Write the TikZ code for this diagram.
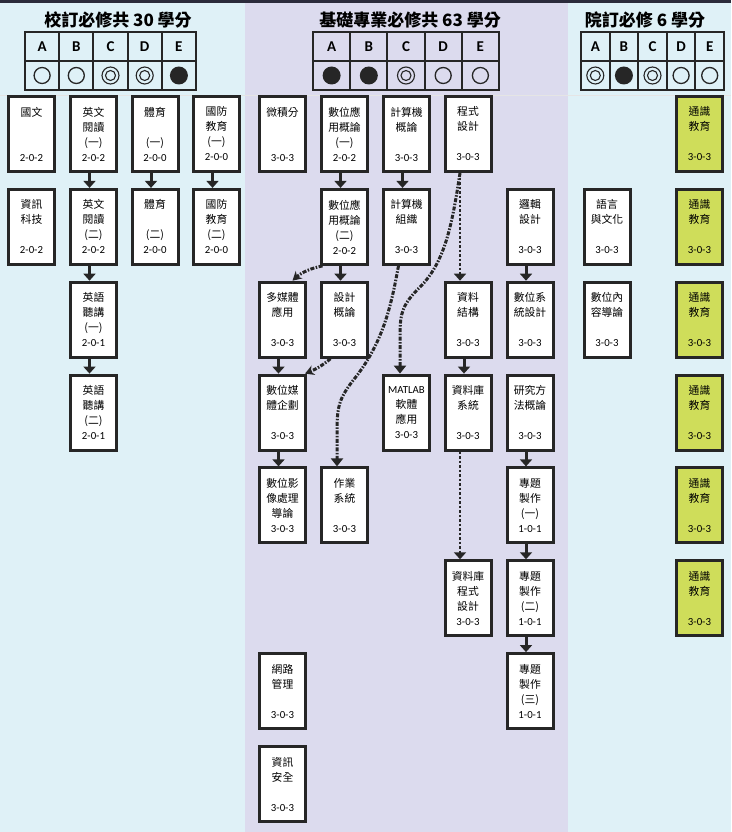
\documentclass[tikz,border=0pt]{standalone}
\usepackage{fontspec}
\setmainfont{Carlito}
\newfontfamily\cjk{Noto Sans CJK TC}
\newfontfamily\latf{Carlito}
\usetikzlibrary{arrows.meta}
\definecolor{bgblue}{HTML}{DFF1F7}
\definecolor{bglav}{HTML}{DCDBEE}
\definecolor{ygreen}{HTML}{CFDD5A}
\definecolor{topbar}{HTML}{2B2B3B}
\definecolor{bord}{HTML}{262626}
\newcommand{\crd}[1]{{\latf #1}}
\newcommand{\symO}[2]{\draw[bord,line width=1.3pt] (#1,#2) circle[radius=8pt];}
\newcommand{\symD}[2]{\draw[bord,line width=1.1pt] (#1,#2) circle[radius=8.5pt] (#1,#2) circle[radius=5pt];}
\newcommand{\symF}[2]{\fill[bord] (#1,#2) circle[radius=9pt];}
\tikzset{
  course/.style={draw=bord, line width=3pt, fill=white, minimum width=46pt, minimum height=75pt,
    inner sep=0pt, align=center, font=\cjk\fontsize{10.8}{15}\selectfont},
  gen/.style={course, fill=ygreen},
  head/.style={font=\cjk\bfseries\fontsize{17}{17}\selectfont, inner sep=0pt},
  lett/.style={font=\latf\bfseries\fontsize{15}{15}\selectfont, inner sep=0pt},
  tbl/.style={draw=bord, line width=2pt},
  solidarr/.style={draw=bord, line width=3pt, -{Triangle[width=12pt,length=7pt]}},
  dasharr/.style={draw=bord, line width=3pt, dash pattern=on 4pt off 1.5pt on 1.5pt off 1.5pt, -{Stealth[width=10pt,length=9pt]}},
  dasharrT/.style={draw=bord, line width=3pt, dash pattern=on 4pt off 1.5pt on 1.5pt off 1.5pt, -{Triangle[width=12pt,length=8pt]}},
  dotarr/.style={draw=bord, line width=2.6pt, dash pattern=on 2.5pt off 2pt, -{Triangle[width=12pt,length=7pt]}},
}
\begin{document}
\begin{tikzpicture}[x=1pt,y=-1pt]
\useasboundingbox (0,0) rectangle (731,832);
% backgrounds
\fill[bgblue] (0,0) rectangle (245,832);
\fill[bglav] (245,0) rectangle (568,832);
\fill[bgblue] (568,0) rectangle (731,832);
\fill[topbar] (0,0) rectangle (731,3.5);
\draw[black!10, line width=0.8pt] (0,95) -- (731,95);

% headings
\node[head] (h1) at (118,20) {校訂必修共 30 學分};
\node[head] (h2) at (410,20) {基礎專業必修共 63 學分};
\node[head] (h3) at (645,20) {院訂必修 6 學分};

% left table
\draw[tbl] (25,32) rectangle (196,90) (25,61) -- (196,61);
\foreach \x in {59.2,93.4,127.6,161.8} \draw[tbl] (\x,32) -- (\x,90);
\foreach \l/\x in {A/42.1,B/76.3,C/110.5,D/144.7,E/178.9} \node[lett] at (\x,46.5) {\l};
\symO{42.1}{75.5}\symO{76.3}{75.5}\symD{110.5}{75.5}\symD{144.7}{75.5}\symF{178.9}{75.5}

% middle table
\draw[tbl] (313,32) rectangle (499,90) (313,61) -- (499,61);
\foreach \x in {350.2,387.4,424.6,461.8} \draw[tbl] (\x,32) -- (\x,90);
\foreach \l/\x in {A/331.6,B/368.8,C/406,D/443.2,E/480.4} \node[lett] at (\x,46.5) {\l};
\symF{331.6}{75.5}\symF{368.8}{75.5}\symD{406}{75.5}\symO{443.2}{75.5}\symO{480.4}{75.5}

% right table
\draw[tbl] (581,32) rectangle (724,90) (581,61) -- (724,61);
\foreach \x in {609.6,638.2,666.8,695.4} \draw[tbl] (\x,32) -- (\x,90);
\foreach \l/\x in {A/595.3,B/623.9,C/652.5,D/681.1,E/709.7} \node[lett] at (\x,46.5) {\l};
\symD{595.3}{75.5}\symF{623.9}{75.5}\symD{652.5}{75.5}\symO{681.1}{75.5}\symO{709.7}{75.5}

% left courses
\node[course] (guowen) at (31.5,134) {國文\\~\\~\\\crd{2-0-2}};
\node[course] (yw1) at (93.5,134) {英文\\閱讀\\(一)\\\crd{2-0-2}};
\node[course] (ty1) at (155,134) {體育\\~\\(一)\\\crd{2-0-0}};
\node[course] (gf1) at (216.5,134) {國防\\教育\\(一)\\\crd{2-0-0}};
\node[course] (zx) at (31.5,226.9) {資訊\\科技\\~\\\crd{2-0-2}};
\node[course] (yw2) at (93.5,226.9) {英文\\閱讀\\(二)\\\crd{2-0-2}};
\node[course] (ty2) at (155,226.9) {體育\\~\\(二)\\\crd{2-0-0}};
\node[course] (gf2) at (216.5,226.9) {國防\\教育\\(二)\\\crd{2-0-0}};
\node[course] (yt1) at (93.5,319.7) {英語\\聽講\\(一)\\\crd{2-0-1}};
\node[course] (yt2) at (93.5,412.6) {英語\\聽講\\(二)\\\crd{2-0-1}};

% middle courses
\node[course] (wjf) at (282.5,134) {微積分\\~\\~\\\crd{3-0-3}};
\node[course] (sw1) at (344.5,134) {數位應\\用概論\\(一)\\\crd{2-0-2}};
\node[course] (jg) at (406.5,134) {計算機\\概論\\~\\\crd{3-0-3}};
\node[course] (cs) at (468,134) {程式\\設計\\~\\\crd{3-0-3}};
\node[course] (sw2) at (344.5,226.9) {數位應\\用概論\\(二)\\\crd{2-0-2}};
\node[course] (jz) at (406.5,226.9) {計算機\\組織\\~\\\crd{3-0-3}};
\node[course] (lj) at (530,226.9) {邏輯\\設計\\~\\\crd{3-0-3}};
\node[course] (mm) at (282.5,319.7) {多媒體\\應用\\~\\\crd{3-0-3}};
\node[course] (sj) at (344.5,319.7) {設計\\概論\\~\\\crd{3-0-3}};
\node[course] (ds) at (468,319.7) {資料\\結構\\~\\\crd{3-0-3}};
\node[course] (dsd) at (530,319.7) {數位系\\統設計\\~\\\crd{3-0-3}};
\node[course] (dmp) at (282.5,412.6) {數位媒\\體企劃\\~\\\crd{3-0-3}};
\node[course] (mat) at (406.5,412.6) {\crd{MATLAB}\\軟體\\應用\\\crd{3-0-3}};
\node[course] (db) at (468,412.6) {資料庫\\系統\\~\\\crd{3-0-3}};
\node[course] (rm) at (530,412.6) {研究方\\法概論\\~\\\crd{3-0-3}};
\node[course] (dip) at (282.5,505.4) {數位影\\像處理\\導論\\\crd{3-0-3}};
\node[course] (os) at (344.5,505.4) {作業\\系統\\~\\\crd{3-0-3}};
\node[course] (pj1) at (530,505.4) {專題\\製作\\(一)\\\crd{1-0-1}};
\node[course] (dbp) at (468,598.3) {資料庫\\程式\\設計\\\crd{3-0-3}};
\node[course] (pj2) at (530,598.3) {專題\\製作\\(二)\\\crd{1-0-1}};
\node[course] (net) at (282.5,691.1) {網路\\管理\\~\\\crd{3-0-3}};
\node[course] (pj3) at (530,691.1) {專題\\製作\\(三)\\\crd{1-0-1}};
\node[course] (sec) at (282.5,784) {資訊\\安全\\~\\\crd{3-0-3}};

% right courses
\node[gen] (ge1) at (699.5,134) {通識\\教育\\~\\\crd{3-0-3}};
\node[gen] (ge2) at (699.5,226.9) {通識\\教育\\~\\\crd{3-0-3}};
\node[gen] (ge3) at (699.5,319.7) {通識\\教育\\~\\\crd{3-0-3}};
\node[gen] (ge4) at (699.5,412.6) {通識\\教育\\~\\\crd{3-0-3}};
\node[gen] (ge5) at (699.5,505.4) {通識\\教育\\~\\\crd{3-0-3}};
\node[gen] (ge6) at (699.5,598.3) {通識\\教育\\~\\\crd{3-0-3}};
\node[course] (lang) at (607,226.9) {語言\\與文化\\~\\\crd{3-0-3}};
\node[course] (dc) at (607,319.7) {數位內\\容導論\\~\\\crd{3-0-3}};

% solid prerequisite arrows
\foreach \a/\b in {yw1/yw2, ty1/ty2, gf1/gf2, yw2/yt1, yt1/yt2, sw1/sw2, jg/jz, sw2/sj, lj/dsd, mm/dmp, dmp/dip, ds/db, rm/pj1, pj1/pj2, pj2/pj3}
  \draw[solidarr] ([xshift=-4pt]\a.south) -- ([xshift=-4pt]\b.north);

% dotted arrows
\draw[dotarr] ([xshift=-8pt]cs.south) -- ([xshift=-8pt]ds.north);
\draw[dotarr] ([xshift=-8pt]db.south) -- ([xshift=-8pt]dbp.north);

% dashed curved arrows
\draw[dasharr] ([xshift=-22pt]sw2.south) .. controls (312,268) and (302,272) .. ([xshift=10pt]mm.north);
\draw[dasharr] ([xshift=-14pt]sj.south) .. controls (322,366) and (314,370) .. ([xshift=-2pt]dmp.north east);
\draw[dasharrT] ([xshift=-8pt]jz.south) .. controls (392,300) and (385,340) .. (355,378) .. controls (340,397) and (337,405) .. (337,430) -- ([xshift=-7.5pt]os.north);
\draw[dasharrT] ([xshift=-8pt]cs.south) .. controls (452,225) and (445,262) .. (420,287) .. controls (403,304) and (400,312) .. (400,335) -- ([xshift=-6.5pt]mat.north);
\end{tikzpicture}
\end{document}
